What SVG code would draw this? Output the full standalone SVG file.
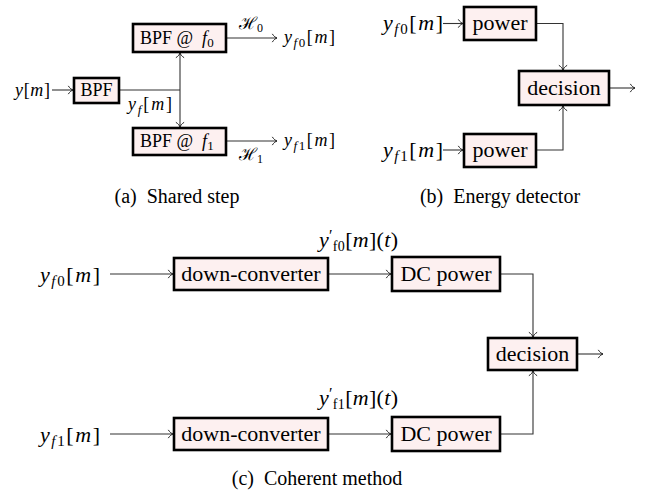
<svg xmlns="http://www.w3.org/2000/svg" width="649" height="496" viewBox="0 0 649 496" font-family="'Liberation Serif', 'Times New Roman', Tinos, 'DejaVu Serif', 'Noto Serif', serif">
<defs>
<marker id="arr" markerUnits="userSpaceOnUse" markerWidth="10" markerHeight="10" viewBox="-6 -5 8 10" refX="0" refY="0" orient="auto-start-reverse">
<path d="M -4.5 -3.8 C -3.2 -1.6 -1.2 -0.4 0 0 C -1.2 0.4 -3.2 1.6 -4.5 3.8" fill="none" stroke="#222" stroke-width="1" stroke-linecap="round"/>
</marker>
</defs>
<style>
.box{fill:#fdf0f0;stroke:#000;stroke-width:2.6}
.ln{fill:none;stroke:#333;stroke-width:1.1}
.ar{marker-end:url(#arr)}
.t{font-family:'Liberation Serif','Times New Roman',Tinos,'DejaVu Serif','Noto Serif',serif;fill:#000}
.bx{text-anchor:middle}
.it{font-style:italic}
.cap{font-family:'Liberation Serif','Times New Roman',Tinos,'DejaVu Serif','Noto Serif',serif;font-size:20px;text-anchor:middle;fill:#000}
.cal{font-style:normal}
</style>
<rect width="649" height="496" fill="#fff"/>

<g id="connectors">
<path class="ln ar" d="M52 90 H73"/>
<path class="ln" d="M119 90 H180"/>
<path class="ln ar" d="M180 90 V53"/>
<path class="ln ar" d="M180 90 V127"/>
<path class="ln ar" d="M226 38 H277"/>
<path class="ln ar" d="M226 141 H277"/>
<path class="ln ar" d="M443 23.5 H463"/>
<path class="ln ar" d="M443 150 H463"/>
<path class="ln ar" d="M536 23.5 H563 V70"/>
<path class="ln ar" d="M536 150 H563 V106"/>
<path class="ln ar" d="M609 88 H635"/>
<path class="ln ar" d="M110 274 H173"/>
<path class="ln ar" d="M328 274 H391"/>
<path class="ln ar" d="M500 274 H533 V337"/>
<path class="ln ar" d="M110 434 H173"/>
<path class="ln ar" d="M328 434 H391"/>
<path class="ln ar" d="M500 434 H533 V371"/>
<path class="ln ar" d="M577 354 H603"/>
</g>

<!-- (a) Shared step -->
<g id="a-input"><text class="t" x="15" y="96" font-size="18" textLength="35" lengthAdjust="spacing"><tspan class="it">y</tspan>[<tspan class="it">m</tspan>]</text></g>
<g id="a-bpf">
<rect class="box" x="74" y="78" width="45" height="25"/>
<text class="t bx" x="96.5" y="96" font-size="18">BPF</text>
</g>
<g id="a-yf"><text class="t" x="128" y="110" font-size="18" textLength="44" lengthAdjust="spacing"><tspan class="it">y</tspan><tspan class="it" font-size="13" dy="4">f</tspan><tspan dy="-4">[</tspan><tspan class="it">m</tspan>]</text></g>
<g id="a-bpf0">
<rect class="box" x="133" y="24" width="93" height="28"/>
<text class="t" x="140" y="44" font-size="18" xml:space="preserve">BPF @  <tspan class="it">f</tspan><tspan font-size="13" dy="3">0</tspan></text>
</g>
<g id="a-bpf1">
<rect class="box" x="133" y="128" width="93" height="27"/>
<text class="t" x="140" y="147" font-size="18" xml:space="preserve">BPF @  <tspan class="it">f</tspan><tspan font-size="13" dy="3">1</tspan></text>
</g>
<g id="a-h0"><text class="t" x="239" y="29" font-size="17"><tspan class="cal">ℋ</tspan><tspan font-size="12" dy="3">0</tspan></text></g>
<g id="a-h1"><text class="t" x="239" y="160" font-size="17"><tspan class="cal">ℋ</tspan><tspan font-size="12" dy="3">1</tspan></text></g>
<g id="a-yf0"><text class="t" x="284" y="43" font-size="18" textLength="51" lengthAdjust="spacing"><tspan class="it">y</tspan><tspan class="it" font-size="13" dy="4">f</tspan><tspan font-size="13">0</tspan><tspan dy="-4">[</tspan><tspan class="it">m</tspan>]</text></g>
<g id="a-yf1"><text class="t" x="284" y="146" font-size="18" textLength="51" lengthAdjust="spacing"><tspan class="it">y</tspan><tspan class="it" font-size="13" dy="4">f</tspan><tspan font-size="13">1</tspan><tspan dy="-4">[</tspan><tspan class="it">m</tspan>]</text></g>
<text class="cap" x="177" y="203" xml:space="preserve">(a)  Shared step</text>

<!-- (b) Energy detector -->
<g id="b-in0"><text class="t" x="383" y="30" font-size="22" textLength="60" lengthAdjust="spacing"><tspan class="it">y</tspan><tspan class="it" font-size="15" dy="4">f</tspan><tspan font-size="15">0</tspan><tspan dy="-4">[</tspan><tspan class="it">m</tspan>]</text></g>
<g id="b-in1"><text class="t" x="383" y="157" font-size="22" textLength="60" lengthAdjust="spacing"><tspan class="it">y</tspan><tspan class="it" font-size="15" dy="4">f</tspan><tspan font-size="15">1</tspan><tspan dy="-4">[</tspan><tspan class="it">m</tspan>]</text></g>
<g id="b-power0">
<rect class="box" x="464" y="7" width="72" height="33"/>
<text class="t bx" x="500" y="30" font-size="22">power</text>
</g>
<g id="b-power1">
<rect class="box" x="464" y="134" width="72" height="33"/>
<text class="t bx" x="500" y="157" font-size="22">power</text>
</g>
<g id="b-decision">
<rect class="box" x="519" y="71" width="90" height="34"/>
<text class="t bx" x="564" y="95" font-size="22">decision</text>
</g>
<text class="cap" x="500" y="203" xml:space="preserve">(b)  Energy detector</text>

<!-- (c) Coherent method -->
<g id="c-in0"><text class="t" x="40" y="282" font-size="22" textLength="60" lengthAdjust="spacing"><tspan class="it">y</tspan><tspan class="it" font-size="15" dy="4">f</tspan><tspan font-size="15">0</tspan><tspan dy="-4">[</tspan><tspan class="it">m</tspan>]</text></g>
<g id="c-in1"><text class="t" x="40" y="442" font-size="22" textLength="60" lengthAdjust="spacing"><tspan class="it">y</tspan><tspan class="it" font-size="15" dy="4">f</tspan><tspan font-size="15">1</tspan><tspan dy="-4">[</tspan><tspan class="it">m</tspan>]</text></g>
<g id="c-dc0">
<rect class="box" x="174" y="258" width="154" height="32"/>
<text class="t bx" x="251" y="281" font-size="22">down-converter</text>
</g>
<g id="c-dc1">
<rect class="box" x="174" y="418" width="154" height="32"/>
<text class="t bx" x="251" y="441" font-size="22">down-converter</text>
</g>
<g id="c-lab0"><text class="t" x="319" y="247" font-size="22" textLength="79" lengthAdjust="spacing"><tspan class="it">y</tspan><tspan font-size="16" dy="-6">′</tspan><tspan font-size="14" dy="10">f0</tspan><tspan dy="-4">[</tspan><tspan class="it">m</tspan>](<tspan class="it">t</tspan>)</text></g>
<g id="c-lab1"><text class="t" x="319" y="405" font-size="22" textLength="79" lengthAdjust="spacing"><tspan class="it">y</tspan><tspan font-size="16" dy="-6">′</tspan><tspan font-size="14" dy="10">f1</tspan><tspan dy="-4">[</tspan><tspan class="it">m</tspan>](<tspan class="it">t</tspan>)</text></g>
<g id="c-pow0">
<rect class="box" x="392" y="257" width="108" height="34"/>
<text class="t bx" x="446" y="281" font-size="22">DC power</text>
</g>
<g id="c-pow1">
<rect class="box" x="392" y="417" width="108" height="34"/>
<text class="t bx" x="446" y="441" font-size="22">DC power</text>
</g>
<g id="c-decision">
<rect class="box" x="488" y="338" width="89" height="32"/>
<text class="t bx" x="532.5" y="361" font-size="22">decision</text>
</g>
<text class="cap" x="317" y="485" xml:space="preserve">(c)  Coherent method</text>
</svg>
